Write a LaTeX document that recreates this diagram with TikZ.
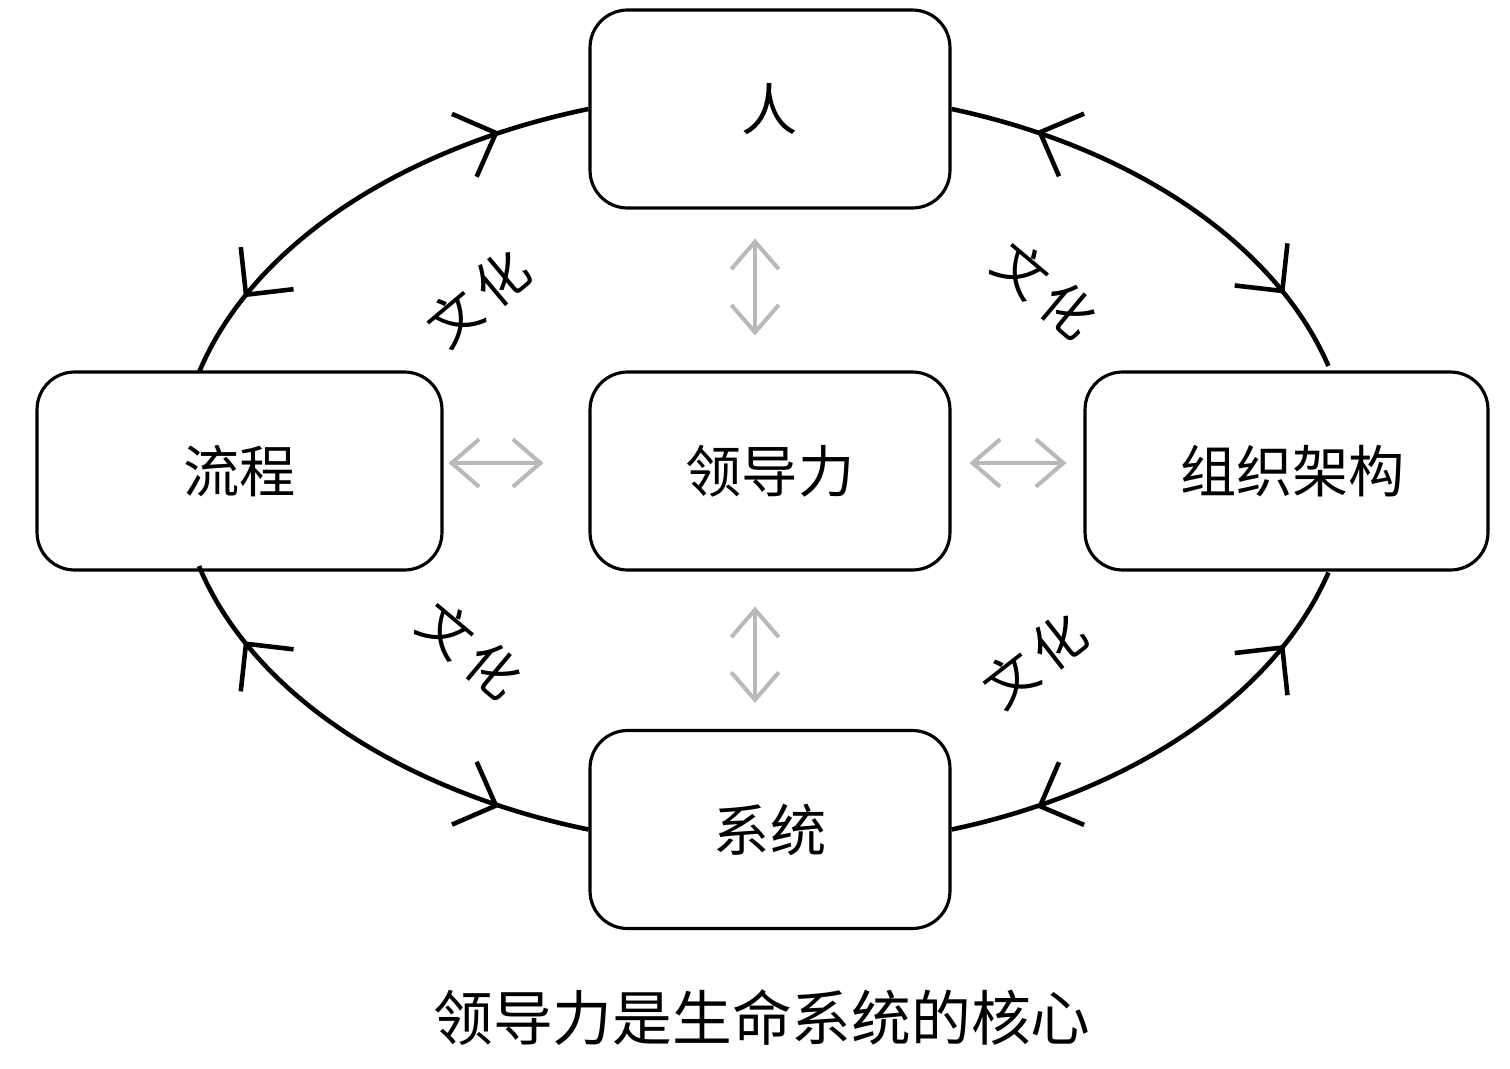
\documentclass[tikz,border=0pt]{standalone}
\usepackage{fontspec}
\newfontfamily\cjk{Noto Sans CJK SC}
\usetikzlibrary{arrows.meta,decorations.markings}
\tikzset{>={Straight Barb[length=0.68cm,width=1.35cm]}}
\tikzset{
  box/.style={draw,line width=1.8pt,rounded corners=0.75cm,fill=white,
    minimum width=7.2cm,minimum height=3.96cm,font=\cjk\fontsize{32}{38}\selectfont},
  ring/.style={line width=2.6pt,postaction={decorate},
    decoration={markings,
      mark=at position 0.27 with {\arrow[line width=2.6pt]{<}},
      mark=at position 0.82 with {\arrow[line width=2.6pt]{>}}}},
  link/.style={<->,gray!55,line width=2.3pt,>={Straight Barb[length=0.55cm,width=0.95cm]}},
  culture/.style={font=\cjk\fontsize{30}{36}\selectfont},
}

\begin{document}
\begin{tikzpicture}[x=0.02cm,y=-0.02cm]
  \useasboundingbox (0,0) rectangle (1510,1068);
  % boxes
  \node[box] (lead) at (770,471) {领导力};
  \node[box] (ren)  at (770,109) {人};
  \node[box] (xt)   at (770,829.5) {系统};
  \node[box,minimum width=8.1cm]  (lc) at (239.5,471) {流程};
  \node[box,minimum width=8.06cm] (zz) at (1286.5,471) {\hspace*{0.25cm}组织架构};
  % outer ring
  \draw[ring] (ren.west) arc[start angle=107.8,end angle=165,x radius=11.8cm,y radius=7.6cm];
  \draw[ring] (ren.east) arc[start angle=72.2,end angle=16,x radius=11.5cm,y radius=7.6cm];
  \draw[ring] (xt.west) arc[start angle=252.2,end angle=195,x radius=11.8cm,y radius=7.6cm];
  \draw[ring] (xt.east) arc[start angle=-72.2,end angle=-16,x radius=11.5cm,y radius=7.6cm];
  % grey links
  \draw[link,shorten <=0.58cm,shorten >=0.7cm] ([xshift=-0.3cm]ren.south) -- ([xshift=-0.3cm]lead.north);
  \draw[link,shorten <=0.7cm,shorten >=0.52cm] ([xshift=-0.3cm]lead.south) -- ([xshift=-0.3cm]xt.north);
  \draw[link,shorten <=0.1cm,shorten >=0.9cm] ([yshift=0.16cm]lc.east) -- ([yshift=0.16cm]lead.west);
  \draw[link,shorten <=0.36cm,shorten >=0.34cm] ([yshift=0.16cm]lead.east) -- ([yshift=0.16cm]zz.west);
  % culture
  \node[culture,rotate=40]  (c1) at (478,298) {文\,化};
  \node[culture,rotate=-40] (c2) at (1045,290) {文\,化};
  \node[culture,rotate=-40] (c3) at (470,650) {文\,化};
  \node[culture,rotate=38]  (c4) at (1035,660) {文\,化};
  % title
  \node[font=\cjk\fontsize{34}{40}\selectfont] (title) at (762,1018) {领导力是生命系统的核心};
\end{tikzpicture}
\end{document}
